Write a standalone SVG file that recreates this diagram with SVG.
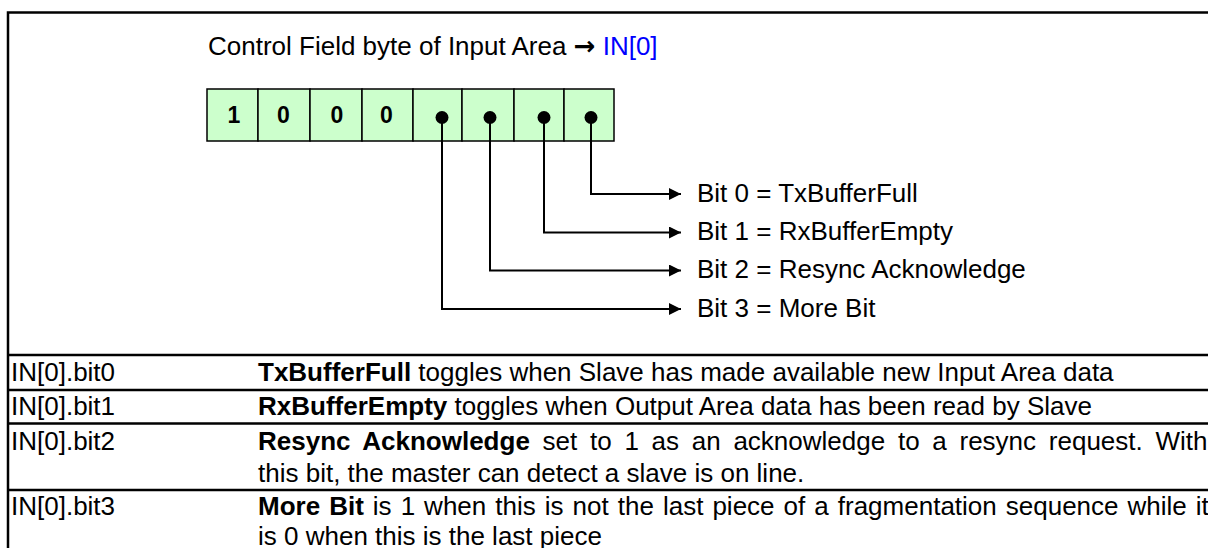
<svg xmlns="http://www.w3.org/2000/svg" width="1208" height="548" viewBox="0 0 1208 548">
<style>
.t{font-family:"Liberation Sans",Arial,sans-serif;font-size:26px;fill:#000}
.b{font-weight:bold}
.blue{fill:#0000FF}
.arr{font-family:"DejaVu Sans",sans-serif;font-weight:bold}
.cell{fill:#CCFFCC;stroke:#000;stroke-width:1.5}
.dg{font-family:"Liberation Sans",Arial,sans-serif;font-weight:bold;font-size:23px;text-anchor:middle;fill:#000}
.conn{fill:none;stroke:#000;stroke-width:2}
.rule{stroke:#000;stroke-width:2.5;fill:none}
.dot{fill:#000}
</style>
<defs>
<marker id="ah" viewBox="0 0 10 10" refX="10" refY="5" markerWidth="13" markerHeight="12" markerUnits="userSpaceOnUse" orient="auto">
<path d="M0,0 L10,5 L0,10 z" fill="#000"/>
</marker>
</defs>
<rect x="0" y="0" width="1208" height="548" fill="#fff"/>
<g id="frame">
<path class="rule" d="M8,548 V12.5 H1208"/>
<path class="rule" d="M8,355 H1208 M8,390 H1208 M8,423.5 H1208 M8,490 H1208"/>
</g>
<g id="title">
<text class="t" x="208" y="55">Control Field byte of Input Area <tspan class="arr">→</tspan> <tspan class="blue">IN[0]</tspan></text>
</g>
<g id="byte">
<rect class="cell" x="207" y="89" width="51" height="52"/>
<rect class="cell" x="258" y="89" width="52" height="52"/>
<rect class="cell" x="310" y="89" width="52" height="52"/>
<rect class="cell" x="362" y="89" width="51" height="52"/>
<rect class="cell" x="413" y="89" width="49" height="52"/>
<rect class="cell" x="462" y="89" width="52" height="52"/>
<rect class="cell" x="514" y="89" width="50" height="52"/>
<rect class="cell" x="564" y="89" width="50" height="52"/>
<text class="dg" x="234" y="123">1</text>
<text class="dg" x="283.5" y="123">0</text>
<text class="dg" x="337" y="123">0</text>
<text class="dg" x="386.5" y="123">0</text>
<circle class="dot" cx="442" cy="117.5" r="6.5"/>
<circle class="dot" cx="490" cy="117.5" r="6.5"/>
<circle class="dot" cx="544" cy="117.5" r="6.5"/>
<circle class="dot" cx="591" cy="117.5" r="6.5"/>
</g>
<g id="connectors">
<path class="conn" d="M591,118 V194 H681" marker-end="url(#ah)"/>
<path class="conn" d="M544,118 V232.5 H681" marker-end="url(#ah)"/>
<path class="conn" d="M490,118 V270.5 H681" marker-end="url(#ah)"/>
<path class="conn" d="M442,118 V309 H681" marker-end="url(#ah)"/>
</g>
<g id="bit0"><text class="t" x="697" y="201.5">Bit 0 = TxBufferFull</text></g>
<g id="bit1"><text class="t" x="697" y="240">Bit 1 = RxBufferEmpty</text></g>
<g id="bit2"><text class="t" x="697" y="278">Bit 2 = Resync Acknowledge</text></g>
<g id="bit3"><text class="t" x="697" y="316.5">Bit 3 = More Bit</text></g>
<g id="table">
<text class="t" x="11" y="381">IN[0].bit0</text>
<text class="t" x="258" y="381"><tspan class="b">TxBufferFull</tspan> toggles when Slave has made available new Input Area data</text>
<text class="t" x="11" y="415">IN[0].bit1</text>
<text class="t" x="258" y="415"><tspan class="b">RxBufferEmpty</tspan> toggles when Output Area data has been read by Slave</text>
<text class="t" x="11" y="450">IN[0].bit2</text>
<text class="t" x="258" y="450" word-spacing="5.5"><tspan class="b">Resync Acknowledge</tspan> set to 1 as an acknowledge to a resync request. With</text>
<text class="t" x="258" y="482">this bit, the master can detect a slave is on line.</text>
<text class="t" x="11" y="515">IN[0].bit3</text>
<text class="t" x="258" y="515" word-spacing="1.8"><tspan class="b">More Bit</tspan> is 1 when this is not the last piece of a fragmentation sequence while it</text>
<text class="t" x="258" y="545">is 0 when this is the last piece</text>
</g>
</svg>
